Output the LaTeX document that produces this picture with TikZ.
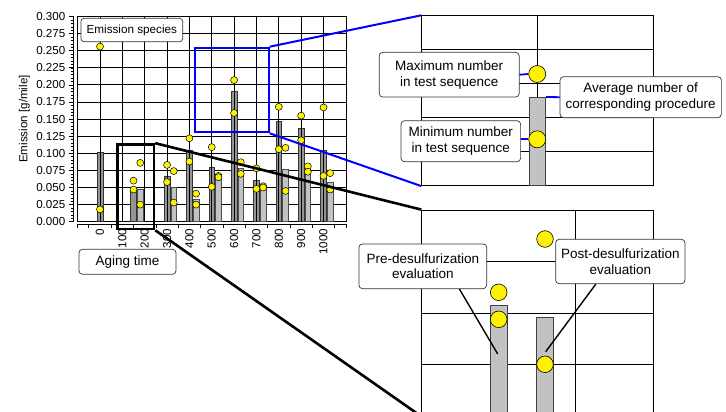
\documentclass[tikz,border=0pt]{standalone}
\usepackage{fontspec}
\setmainfont{Liberation Sans}
\usetikzlibrary{calc}
\begin{document}
\begin{tikzpicture}[x=1pt,y=-1pt,
  gridline/.style={black,line width=0.8pt},
  axisline/.style={black,line width=0.7pt},
  prebar/.style={fill=black!42,draw=black!80,line width=0.5pt},
  postbar/.style={fill=black!24,draw=black!70,line width=0.5pt},
  dot/.style={circle,fill=yellow,draw=black,line width=0.5pt,inner sep=0pt,minimum size=7pt},
  bigdot/.style={circle,fill=yellow,draw=black,line width=0.6pt,inner sep=0pt,minimum size=17pt},
  ticklab/.style={font=\fontsize{11.6}{13}\selectfont,inner sep=0pt},
  callout/.style={draw=black!80,line width=0.7pt,fill=white,rounded corners=3.5pt,align=center,inner sep=0pt,font=\fontsize{13.5}{15.7}\selectfont},
  ibar/.style={fill=black!24,draw=black!75,line width=0.6pt,inner sep=0pt},
  frame/.style={draw=black,line width=0.8pt,inner sep=0pt},
  zoomblue/.style={draw=blue,line width=2pt},
  zoomblack/.style={draw=black,line width=2.6pt},
  leader/.style={black,line width=1.4pt},
  bleader/.style={blue,line width=1.8pt},
]
\useasboundingbox (0,0) rectangle (726,412);
\fill[white] (0,0) rectangle (726,412);

% ---------- main chart ----------
\foreach \k in {0,...,12}
  \draw[gridline] (77.7,{221.7-17.1*\k}) -- (346,{221.7-17.1*\k});

% pre and post bars
\node[prebar,inner sep=0pt,minimum width=5.8pt,minimum height={684*0.101}] (b0) at (100,{221.7-342*0.101}) {};
\foreach \v/\a/\b in {150/0.050/0.048,300/0.067/0.051,400/0.105/0.033,500/0.080/0.069,600/0.190/0.078,700/0.061/0.050,800/0.147/0.077,900/0.136/0.076,1000/0.104/0.058}{
  \pgfmathsetmacro\xx{100+0.2235*\v}
  \node[prebar,inner sep=0pt,minimum width=5.8pt,minimum height={684*\a}] (pb\v) at (\xx,{221.7-342*\a}) {};
  \node[postbar,inner sep=0pt,minimum width=5.8pt,minimum height={684*\b}] (qb\v) at ({\xx+6.7},{221.7-342*\b}) {};
}
\foreach \k in {0,...,12}
  \draw[gridline] ({77.7+22.35*\k},16.5) -- ({77.7+22.35*\k},221.7);

% dots
\node[dot] (d0a) at (100,{221.7-684*0.256}) {};
\node[dot] (d0b) at (100,{221.7-684*0.018}) {};
\foreach \v/\a/\b/\c/\d in {150/0.060/0.047/0.086/0.025,300/0.083/0.058/0.074/0.028,400/0.122/0.088/0.041/0.025,500/0.109/0.051/0.067/0.065,600/0.207/0.159/0.087/0.070,700/0.078/0.048/0.052/0.050,800/0.168/0.106/0.108/0.045,900/0.155/0.119/0.081/0.073,1000/0.167/0.067/0.071/0.047}{
  \pgfmathsetmacro\xx{100+0.2235*\v}
  \node[dot] (pa\v) at (\xx,{221.7-684*\a}) {};
  \node[dot] (pc\v) at (\xx,{221.7-684*\b}) {};
  \node[dot] (qa\v) at ({\xx+6.7},{221.7-684*\c}) {};
  \node[dot] (qc\v) at ({\xx+6.7},{221.7-684*\d}) {};
}

% y axis
\draw[axisline] (73,16.5) -- (73,221.7);
\foreach \k in {0,...,12}
  \draw[axisline] (68.5,{221.7-17.1*\k}) -- (73,{221.7-17.1*\k});
\foreach \k in {0,...,60}
  \draw[black,line width=0.5pt] (70.8,{221.7-3.42*\k}) -- (73,{221.7-3.42*\k});
\foreach \k/\t in {0/0.000,1/0.025,2/0.050,3/0.075,4/0.100,5/0.125,6/0.150,7/0.175,8/0.200,9/0.225,10/0.250,11/0.275,12/0.300}
  \node[ticklab,anchor=east] (yl\k) at (65.5,{221.7-17.1*\k}) {\t};
\node[ticklab,rotate=90] (ytitle) at (24.5,119) {Emission [g/mile]};

% x axis
\draw[axisline] (77.7,224.3) -- (346,224.3);
\foreach \k in {0,...,11}
  \draw[axisline] ({88.8+22.35*\k},224.3) -- ({88.8+22.35*\k},227.6);
\draw[axisline] (77.7,224.3) -- (77.7,227.6);
\draw[axisline] (346,224.3) -- (346,227.6);
\foreach \v in {0,100,...,1000}
  \node[ticklab,rotate=90,anchor=east] (xl\v) at ({100+0.2235*\v},228.5) {\v};

\node[callout,font=\fontsize{11.7}{13}\selectfont,rounded corners=3pt,minimum width=101.7pt,minimum height=23.4pt] (species) at (131.8,30) {Emission species};
\node[callout,rounded corners=3.5pt,minimum width=97pt,minimum height=25pt] (aging) at (127.5,261.8) {Aging time};

% ---------- inset 1 (blue) ----------
\node[frame,minimum width=231.6pt,minimum height=170pt] (inset1) at (537.5,100.7) {};
\foreach \k in {1,...,4}
  \draw[gridline] (inset1.west|-{0,15.7+34*\k}) -- (inset1.east|-{0,15.7+34*\k});
\draw[gridline] (537.2,15.7) -- (537.2,185.7);
\node[ibar,minimum width=16.7pt,minimum height=88.4pt] (ibar1) at (537.4,141.5) {};
\node[bigdot] (maxdot) at (537.2,74) {};
\node[bigdot] (mindot) at (537.2,139.3) {};

% ---------- inset 2 (black) ----------
\node[frame,minimum width=231.6pt,minimum height=206pt] (inset2) at (537.5,313) {};
\foreach \yy in {261.7,313.3,364.3}
  \draw[gridline] (inset2.west|-{0,\yy}) -- (inset2.east|-{0,\yy});
\draw[gridline] (575.7,210) -- (575.7,416);
\node[ibar,minimum width=17pt,minimum height=110.7pt] (ibarpre) at (498.8,360.65) {};
\node[ibar,minimum width=17pt,minimum height=98.7pt] (ibarpost) at (544.8,366.65) {};
\node[bigdot,minimum size=16.6pt] (pre1) at (498.7,292.3) {};
\node[bigdot,minimum size=16.6pt] (pre2) at (498.7,319.3) {};
\node[bigdot,minimum size=16.6pt] (post1) at (545,239) {};
\node[bigdot,minimum size=16.6pt] (post2) at (545,364.3) {};

% ---------- zoom rectangles and lines ----------
\node[zoomblue,inner sep=0pt,minimum width=73.7pt,minimum height=84.6pt] (bluerect) at (231.85,90) {};
\node[zoomblack,inner sep=0pt,minimum width=36.7pt,minimum height=84.5pt] (blackrect) at (135.65,186.75) {};
\draw[blue,line width=2pt] (bluerect.north east) -- (inset1.north west);
\draw[blue,line width=2pt] (bluerect.south east) -- (inset1.south west);
\draw[black,line width=2.6pt] (blackrect.north east) -- (inset2.north west);
\draw[black,line width=2.6pt] (blackrect.south east) -- (inset2.south west);

% ---------- callouts ----------
\node[callout,minimum width=139.9pt,minimum height=44.7pt] (maxbox) at (449.2,74.7) {Maximum number\\in test sequence};
\node[callout,minimum width=119.6pt,minimum height=41pt] (minbox) at (460.8,141.2) {Minimum number\\in test sequence};
\node[callout,minimum width=161.3pt,minimum height=41pt] (avgbox) at (640.7,97.2) {Average number of\\corresponding procedure};
\node[callout,minimum width=127.7pt,minimum height=44.7pt] (prebox) at (422.8,266.3) {Pre-desulfurization\\evaluation};
\node[callout,minimum width=129.3pt,minimum height=44.4pt] (postbox) at (620.3,261.5) {Post-desulfurization\\evaluation};

\draw[bleader] (maxbox.east) -- (maxdot.west);
\draw[bleader] (minbox.east|-mindot.west) -- (mindot.west);
\draw[bleader] (ibar1.north east) -- (avgbox.west);

\coordinate (prept) at (497.7,354);
\coordinate (postpt) at (545.7,351.7);
\draw[leader] ($(prebox.south west)!0.785!(prebox.south east)$) -- (prept);
\draw[leader] ($(postbox.south west)!0.312!(postbox.south east)$) -- (postpt);
\end{tikzpicture}
\end{document}
